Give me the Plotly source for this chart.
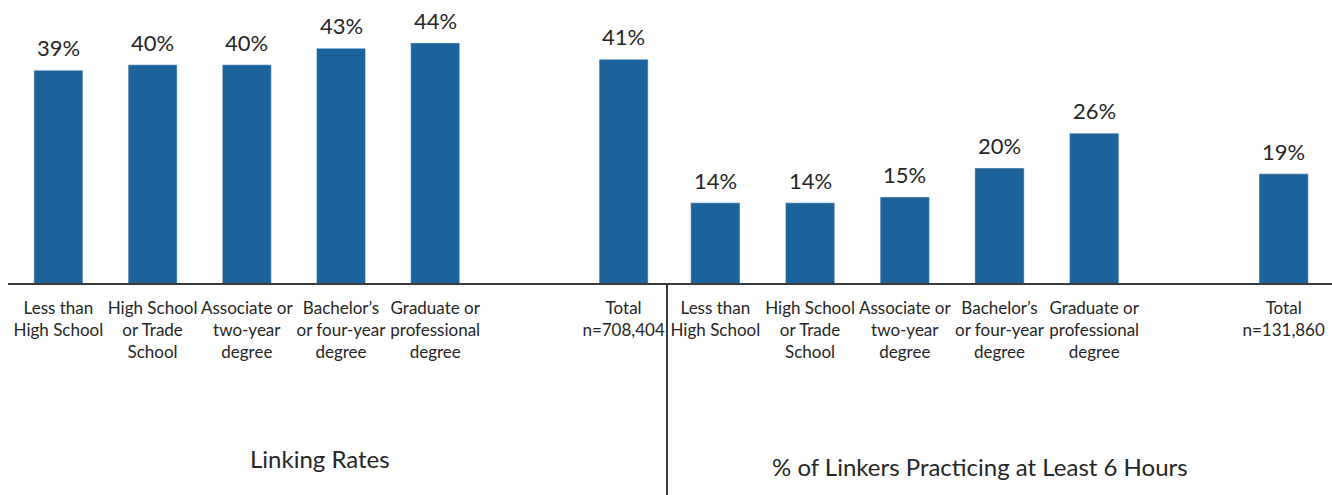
import plotly.graph_objects as go

# Education categories (shared by both panels)
categories = [
    "Less than<br>High School",
    "High School<br>or Trade<br>School",
    "Associate or<br>two-year<br>degree",
    "Bachelor’s<br>or four-year<br>degree",
    "Graduate or<br>professional<br>degree",
]
total_left_label = "Total<br>n=708,404"
total_right_label = "Total<br>n=131,860"

# Linking rates (%) by education, then total
linking_rates = [39, 40, 40, 43, 44]
linking_total = 41

# % of linkers practicing at least 6 hours, then total
practice_rates = [14, 14, 15, 20, 26]
practice_total = 19

panel_titles = ["Linking Rates", "% of Linkers Practicing at Least 6 Hours"]

BAR = "#1b639a"
INK = "#262626"
W, H = 1332, 495
BASE_PX = 284  # pixel row of the shared baseline

# slot index for each bar: five categories, one empty slot, then the total
slots = list(range(len(categories))) + [len(categories) + 1]

left_vals = linking_rates + [linking_total]
right_vals = practice_rates + [practice_total]
left_ticks = categories + [total_left_label]
right_ticks = categories + [total_right_label]

fig = go.Figure()
fig.add_trace(go.Bar(x=slots, y=left_vals, width=0.52, marker_color=BAR,
                     xaxis="x", yaxis="y", hoverinfo="skip"))
fig.add_trace(go.Bar(x=slots, y=right_vals, width=0.52, marker_color=BAR,
                     xaxis="x2", yaxis="y2", hoverinfo="skip"))

label_font = dict(family="Lato", size=22, color=INK)
annotations = []
for s, v in zip(slots, left_vals):
    annotations.append(dict(x=s, y=v, xref="x", yref="y", text=f"{v}%",
                            showarrow=False, yanchor="bottom", yshift=7,
                            font=label_font))
for s, v in zip(slots, right_vals):
    annotations.append(dict(x=s, y=v, xref="x2", yref="y2", text=f"{v}%",
                            showarrow=False, yanchor="bottom", yshift=7,
                            font=label_font))

title_font = dict(family="Lato", size=24, color=INK)
annotations.append(dict(x=320 / W, y=1 - 458 / H, xref="paper", yref="paper",
                        text=panel_titles[0], showarrow=False,
                        xanchor="center", yanchor="middle", font=title_font))
annotations.append(dict(x=980 / W, y=1 - 466 / H, xref="paper", yref="paper",
                        text=panel_titles[1], showarrow=False,
                        xanchor="center", yanchor="middle", font=title_font))

base_y = 1 - BASE_PX / H
xaxis_common = dict(range=[-0.5, 6.5], tickmode="array", tickvals=slots,
                    showgrid=False, zeroline=False, showline=False,
                    ticks="", ticklabelstandoff=12,
                    tickfont=dict(family="Lato", size=17, color=INK),
                    fixedrange=True)

fig.update_layout(
    width=W, height=H,
    margin=dict(l=0, r=0, t=0, b=0),
    paper_bgcolor="white", plot_bgcolor="white",
    showlegend=False,
    xaxis=dict(domain=[11.3 / W, 670.7 / W], ticktext=left_ticks,
               anchor="y", **xaxis_common),
    xaxis2=dict(domain=[668 / W, 1331 / W], ticktext=right_ticks,
                anchor="y2", **xaxis_common),
    yaxis=dict(domain=[base_y, 1], range=[0, BASE_PX / 5.48], visible=False,
               fixedrange=True),
    yaxis2=dict(domain=[base_y, 1], range=[0, BASE_PX / 5.8], visible=False,
                anchor="x2", fixedrange=True),
    annotations=annotations,
    shapes=[
        dict(type="line", xref="paper", yref="paper", x0=8 / W, x1=1,
             y0=base_y, y1=base_y, line=dict(color="#3a3a3a", width=2)),
        dict(type="line", xref="paper", yref="paper", x0=667 / W, x1=667 / W,
             y0=0, y1=base_y, line=dict(color="#3a3a3a", width=2)),
    ],
)

fig.write_html("out.html")
